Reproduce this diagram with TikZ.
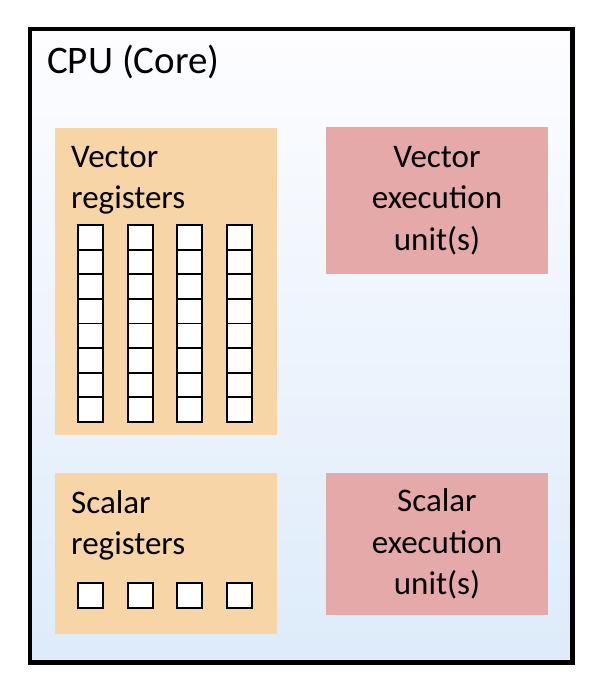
\documentclass[tikz,border=0pt]{standalone}
\usepackage{fontspec}
\setmainfont{Carlito}
\usetikzlibrary{positioning,calc}
\definecolor{regfill}{RGB}{248,213,167}
\definecolor{unitfill}{RGB}{229,169,169}
\definecolor{coretop}{RGB}{253,253,255}
\definecolor{corebot}{RGB}{221,235,250}

\begin{document}
\begin{tikzpicture}[x=1pt,y=-1pt,
  regbox/.style={rectangle,fill=regfill,draw=none,minimum width=222pt,inner sep=0pt},
  unitbox/.style={rectangle,fill=unitfill,draw=none,minimum width=222pt,inner sep=0pt,align=center,font=\fontsize{33}{41.5}\selectfont},
  column/.style={rectangle,fill=white,draw=none,minimum width=25pt,minimum height=197pt,inner sep=0pt},
  cell/.style={rectangle,draw=black,line width=1.9pt,minimum width=25pt,minimum height=24.6pt,inner sep=0pt},
  regtitle/.style={font=\fontsize{33}{41.5}\selectfont,align=left,inner sep=0pt,anchor=north west}]
  \useasboundingbox (0,0) rectangle (602,688);
  \node[draw,line width=4.5pt,top color=coretop,bottom color=corebot,minimum width=542.5pt,minimum height=633.5pt,inner sep=0pt] (core) at (301.25,345.75) {};
  \node[anchor=base west,inner sep=0pt,font=\fontsize{39}{44}\selectfont] (cpu) at (47,73) {CPU (Core)};
  \node[regbox,minimum height=307pt] (vreg) at (166,281.5) {};
  \node[regbox,minimum height=161pt] (sreg) at (166,553.5) {};
  \node[unitbox,minimum height=147pt] (vexec) at (437,200.5) {Vector\\execution\\unit(s)};
  \node[unitbox,minimum height=142pt] (sexec) at (437,544) {Scalar\\execution\\unit(s)};
  \node[regtitle] (vregtext) at (71,146) {Vector\\registers};
  \node[regtitle] (sregtext) at (71,490) {Scalar\\registers};
  \foreach \i in {0,...,3} {
    \node[column] (vcol-\i) at (90.5+49.67*\i,323.5) {};
    \foreach \j in {0,...,7}
      \node[cell] (v-\i-\j) at (90.5+49.67*\i,237.3+24.625*\j) {};
    \node[cell,fill=white,minimum height=25pt] (s-\i) at (90.5+49.67*\i,595.5) {};
  }
\end{tikzpicture}
\end{document}
